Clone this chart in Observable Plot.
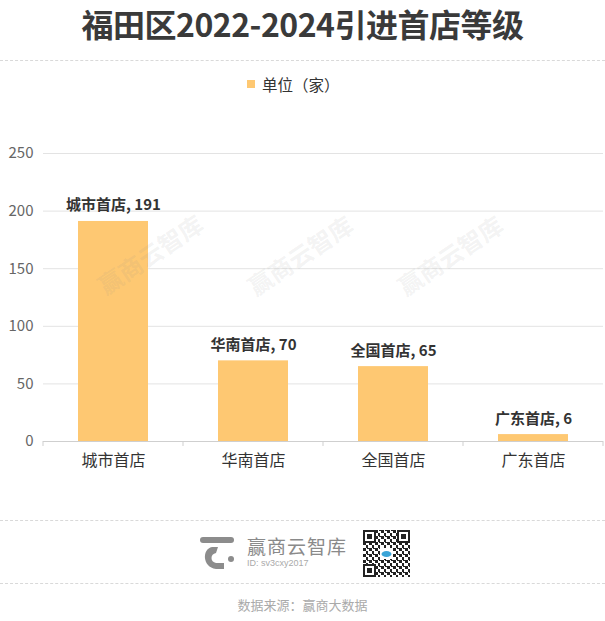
<!DOCTYPE html>
<html><head><meta charset="utf-8">
<script src="https://cdn.jsdelivr.net/npm/d3@7"></script>
<script src="https://cdn.jsdelivr.net/npm/@observablehq/plot@0.6"></script>
<style>
body{margin:0;background:#fff;font-family:"Noto Sans CJK SC","Noto Sans",sans-serif;}
#wrap{position:relative;width:605px;height:621px;overflow:hidden;background:#fff;}
.abs{position:absolute;}
#title{left:0;width:605px;top:5px;text-align:center;font-size:32px;font-weight:bold;color:#3a3a3a;line-height:36px;letter-spacing:-0.5px;}
.dash{left:0;width:605px;height:0;border-top:1px dashed #d9d9d9;}
#legsw{left:247px;top:80px;width:8px;height:8px;background:#fec872;}
#legtext{left:262px;top:73px;font-size:15.5px;color:#333;line-height:22px;}
#chart{left:0;top:100px;}
.wm{width:130px;height:26px;line-height:26px;text-align:center;font-size:24px;font-weight:bold;color:rgba(140,140,140,0.11);transform:rotate(-34deg);transform-origin:center;white-space:nowrap;z-index:5;}
#brand{left:247px;top:533px;font-size:19px;color:#8a8a8a;line-height:26px;letter-spacing:1px;}
#bid{left:247px;top:558px;font-size:9px;color:#aaa;font-family:"Liberation Sans",sans-serif;}
#source{left:0;width:605px;top:596px;text-align:center;font-size:13px;color:#aaa;line-height:18px;}
</style></head>
<body><div id="wrap">
<div id="title" class="abs">福田区2022-2024引进首店等级</div>
<div class="abs dash" style="top:60px"></div>
<div id="legsw" class="abs"></div>
<div id="legtext" class="abs"></div>
<div id="chart" class="abs"></div>
<div class="abs wm" style="left:85px;top:241px">赢商云智库</div>
<div class="abs wm" style="left:235px;top:242px">赢商云智库</div>
<div class="abs wm" style="left:385px;top:242px">赢商云智库</div>
<div class="abs dash" style="top:520px"></div>
<svg class="abs" style="left:198px;top:534px" width="40" height="40" viewBox="0 0 40 40">
  <rect x="2" y="3" width="34" height="6" rx="3" fill="#8c8c8c"/>
  <path d="M14 13 C 4 15, 4 33, 18 35 L 26 35 L 26 29 L 18 29 C 12 28, 12 20, 18 19 L 20 13 Z" fill="#8c8c8c"/>
  <circle cx="33" cy="25" r="3" fill="#8c8c8c"/>
</svg>
<div id="brand" class="abs">赢商云智库</div>
<div id="bid" class="abs">ID: sv3cxy2017</div>
<svg class="abs" style="left:363px;top:530px" width="47" height="47" viewBox="0 0 47 47">
  <defs><pattern id="qp" width="6" height="6" patternUnits="userSpaceOnUse">
    <rect width="6" height="6" fill="#fff"/><rect x="0" y="0" width="3" height="3" fill="#222"/><rect x="3" y="3" width="2" height="3" fill="#222"/><rect x="4" y="0" width="2" height="1" fill="#222"/></pattern></defs>
  <rect width="47" height="47" fill="url(#qp)"/>
  <g fill="#222"><rect x="0" y="0" width="13" height="13"/><rect x="34" y="0" width="13" height="13"/><rect x="0" y="34" width="13" height="13"/></g>
  <g fill="#fff"><rect x="2" y="2" width="9" height="9"/><rect x="36" y="2" width="9" height="9"/><rect x="2" y="36" width="9" height="9"/></g>
  <g fill="#222"><rect x="4" y="4" width="5" height="5"/><rect x="38" y="4" width="5" height="5"/><rect x="4" y="38" width="5" height="5"/></g>
  <rect x="17" y="18" width="13" height="11" fill="#fff"/>
  <ellipse cx="23.5" cy="24" rx="5" ry="3" fill="#3ba5d8"/>
</svg>
<div class="abs dash" style="top:583px"></div>
<div id="source" class="abs">数据来源：赢商大数据</div>
</div>
<script>
const categories = ["城市首店", "华南首店", "全国首店", "广东首店"];
const values = [191, 70, 65, 6];
const yTicks = [0, 50, 100, 150, 200, 250];
const seriesName = "单位（家）";

document.getElementById("legtext").textContent = seriesName;

const data = categories.map((c, i) => ({cat: c, value: values[i]}));
const barColor = "#fec872";

const plot = Plot.plot({
  width: 605,
  height: 400,
  marginTop: 53,
  marginBottom: 59,
  marginLeft: 43,
  marginRight: 2,
  style: {fontFamily: '"Noto Sans CJK SC", "Noto Sans", sans-serif', background: "transparent", color: "#333"},
  x: {domain: categories, paddingInner: 0.5, paddingOuter: 0.25, label: null},
  y: {domain: [0, 250], label: null},
  marks: [
    Plot.gridY(yTicks, {stroke: "#e3e3e3", strokeOpacity: 1}),
    Plot.axisY(yTicks, {tickSize: 0, tickPadding: 10, fontSize: 15, fill: "#666", label: null}),
    Plot.axisX({tickSize: 0, tickPadding: 13, fontSize: 16, fill: "#333", label: null}),
    Plot.barY(data, {x: "cat", y: "value", fill: barColor}),
    Plot.ruleY([0], {stroke: "#cfcfcf"}),
    Plot.text(data, {x: "cat", y: "value", text: d => `${d.cat}, ${d.value}`, lineAnchor: "bottom", dy: -11,
      fontSize: 15, fontWeight: "bold", fill: "#333"})
  ]
});
document.getElementById("chart").appendChild(plot);

// category boundary ticks on the x axis, derived from the band scale
const xs = plot.scale("x"), ys = plot.scale("y");
const gap = (xs.step - xs.bandwidth) / 2;
const edges = categories.map(c => xs.apply(c) - gap);
edges.push(xs.apply(categories[categories.length - 1]) + xs.bandwidth + gap);
const y0 = ys.apply(0);
const g = d3.select(plot).append("g");
g.selectAll("line").data(edges).join("line")
  .attr("x1", d => d).attr("x2", d => d)
  .attr("y1", y0).attr("y2", y0 + 5)
  .attr("stroke", "#cfcfcf");
</script>
</body></html>
